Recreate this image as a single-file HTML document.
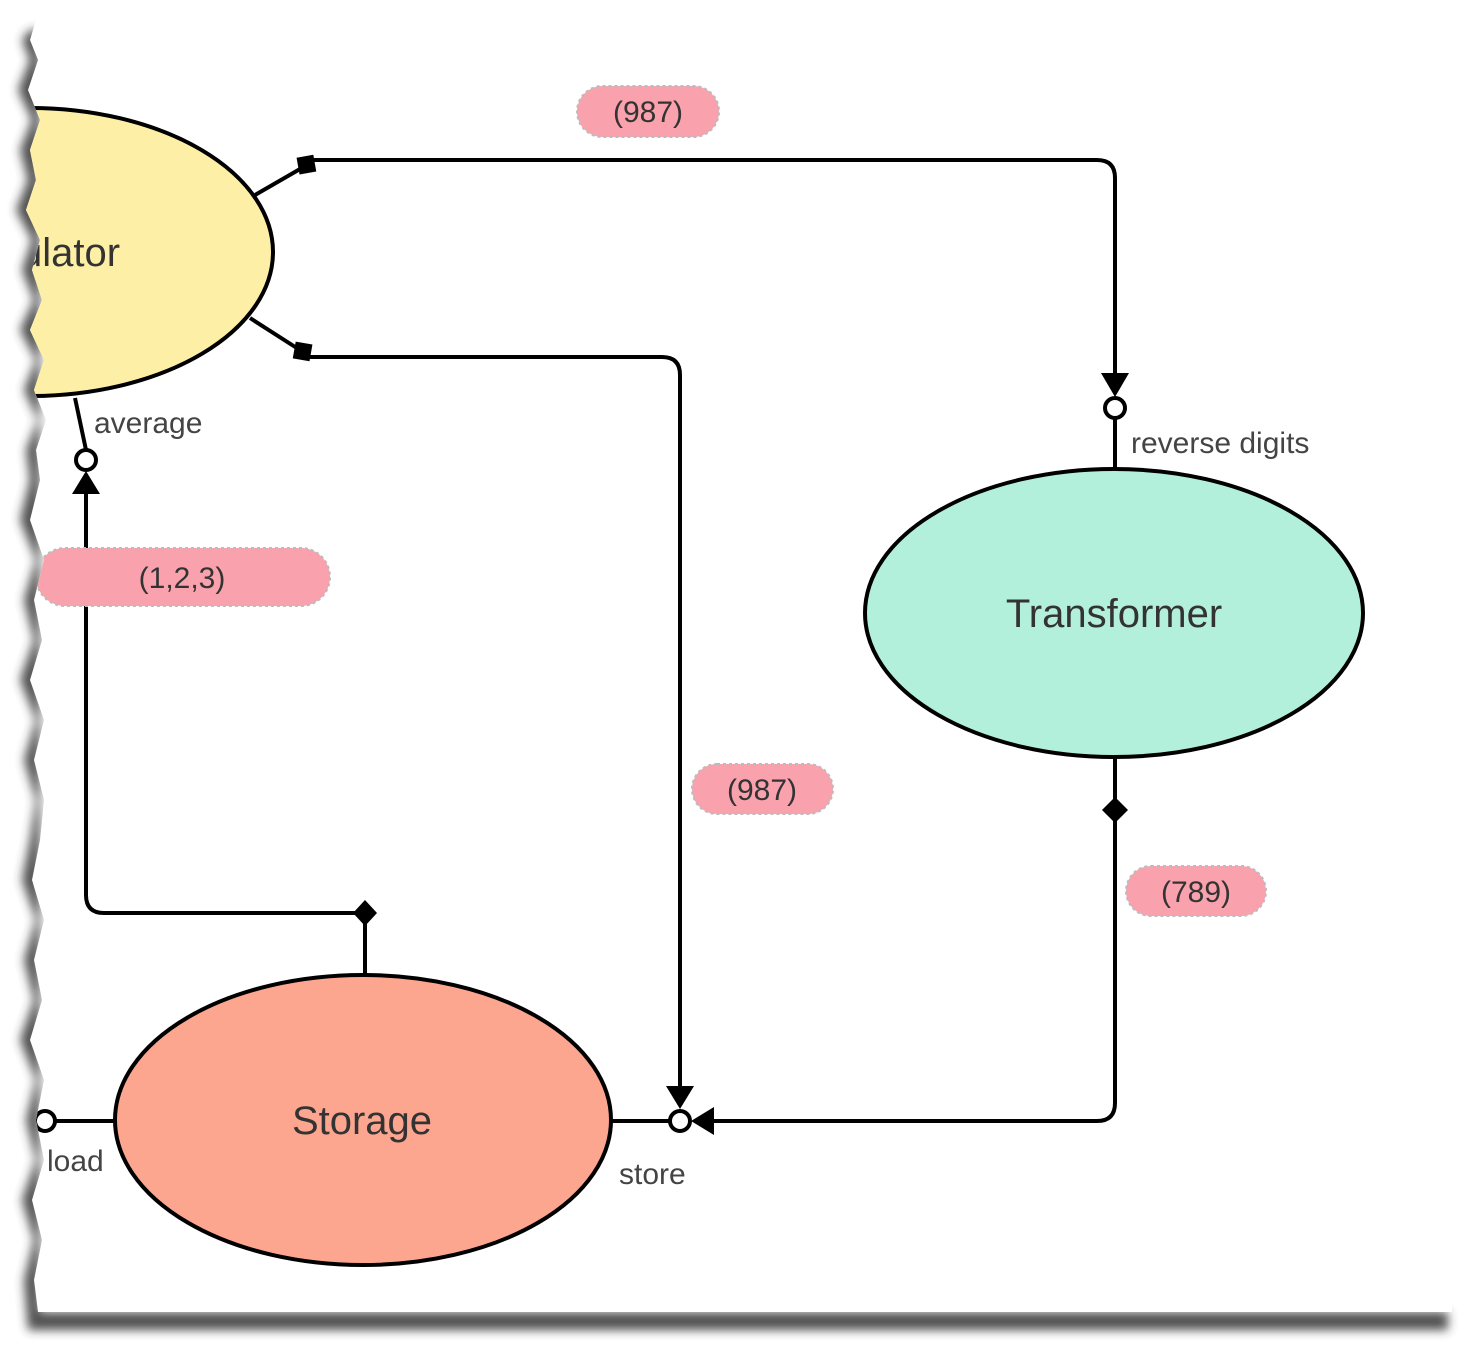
<!DOCTYPE html>
<html><head><meta charset="utf-8"><style>
html,body{margin:0;padding:0;background:#fff;}
svg{display:block;}
text{font-family:"Liberation Sans",sans-serif;}
</style></head><body>
<svg width="1472" height="1346" viewBox="0 0 1472 1346" xmlns="http://www.w3.org/2000/svg">
<defs>
<filter id="bl" x="-20%" y="-20%" width="140%" height="140%"><feGaussianBlur stdDeviation="5"/></filter>
<clipPath id="page"><path d="M36,20 L30,40 L38,60 L28,90 L40,120 L30,150 L36,180 L26,210 L40,240 L32,270 L42,300 L30,330 L44,360 L34,390 L46,420 L36,450 L40,480 L30,520 L44,560 L34,600 L42,640 L30,680 L44,720 L34,760 L44,800 L40,840 L32,880 L44,920 L34,960 L42,1000 L30,1040 L44,1080 L36,1120 L44,1160 L32,1200 L42,1240 L34,1280 L38,1312 L1452,1312 L1452,0 L36,0 Z"/></clipPath>
</defs>
<rect width="1472" height="1346" fill="#fff"/>
<!-- shadow -->
<g filter="url(#bl)" opacity="0.85">
<path d="M30,30 L22,40 L30,60 L18,90 L32,120 L20,150 L28,180 L16,210 L32,240 L22,270 L34,300 L20,330 L36,360 L24,390 L38,420 L26,450 L30,480 L20,520 L36,560 L24,600 L34,640 L20,680 L36,720 L24,760 L36,800 L30,840 L22,880 L36,920 L24,960 L34,1000 L20,1040 L36,1080 L26,1120 L36,1160 L22,1200 L34,1240 L24,1280 L28,1330 L1448,1330 L1448,1312 L40,1312 L40,30 Z" fill="#333"/>
</g>
<g clip-path="url(#page)">
<rect x="0" y="0" width="1472" height="1312" fill="#fff"/>
<!-- Calculator ellipse -->
<ellipse cx="30" cy="252" rx="243" ry="144" fill="#fdf0a6" stroke="#000" stroke-width="4"/>
<text x="20" y="266" font-size="40" fill="#333">ulator</text>
<!-- lines -->
<g stroke="#000" stroke-width="4" fill="none">
<path d="M255,195 L307,165"/>
<path d="M250,318 L303,352"/>
<path d="M307,160 L1097,160 Q1115,160 1115,178 L1115,380"/>
<path d="M303,357 L662,357 Q680,357 680,375 L680,1090"/>
<path d="M75,398 L86,450"/>
<path d="M365,975 L365,913 L104,913 Q86,913 86,895 L86,485"/>
<path d="M115,1121 L52,1121"/>
<path d="M611,1121 L670,1121"/>
<path d="M1115,468 L1115,418"/>
<path d="M1115,758 L1115,1103 Q1115,1121 1097,1121 L710,1121"/>
</g>
<!-- diamonds / squares -->
<rect x="298" y="156" width="17" height="17" fill="#000" transform="rotate(-10 307 165)"/>
<rect x="294" y="343" width="17" height="17" fill="#000" transform="rotate(10 303 352)"/>
<path d="M365,900 L377,913 L365,926 L353,913 Z" fill="#000"/>
<path d="M1115,797 L1128,810 L1115,823 L1102,810 Z" fill="#000"/>
<!-- arrows -->
<path d="M1101,373 L1129,373 L1115,397 Z" fill="#000"/>
<path d="M666,1086 L694,1086 L680,1109 Z" fill="#000"/>
<path d="M72,494 L100,494 L86,471 Z" fill="#000"/>
<path d="M714,1107 L714,1135 L691,1121 Z" fill="#000"/>
<!-- circles -->
<g fill="#fff" stroke="#000" stroke-width="4">
<circle cx="1115" cy="408" r="10"/>
<circle cx="86" cy="460" r="10"/>
<circle cx="680" cy="1121" r="10"/>
<circle cx="45" cy="1121" r="10"/>
</g>
<!-- Storage -->
<ellipse cx="363" cy="1120" rx="248" ry="145" fill="#fca690" stroke="#000" stroke-width="4"/>
<text x="362" y="1134" font-size="40" fill="#333" text-anchor="middle">Storage</text>
<!-- Transformer -->
<ellipse cx="1114" cy="613" rx="249" ry="144" fill="#b3f0db" stroke="#000" stroke-width="4"/>
<text x="1114" y="627" font-size="40" fill="#333" text-anchor="middle">Transformer</text>
<!-- port labels -->
<g font-size="30" fill="#444">
<text x="94" y="433">average</text>
<text x="1131" y="453">reverse digits</text>
<text x="47" y="1171">load</text>
<text x="619" y="1184">store</text>
</g>
<!-- pills -->
<g fill="#f9a2ad" stroke="#bbb" stroke-width="2" stroke-dasharray="3 3">
<rect x="577" y="86" width="142" height="51" rx="25.5"/>
<rect x="36" y="548" width="294" height="58" rx="29"/>
<rect x="692" y="764" width="141" height="50" rx="25"/>
<rect x="1126" y="866" width="140" height="50" rx="25"/>
</g>
<g font-size="30" fill="#333" text-anchor="middle">
<text x="648" y="122">(987)</text>
<text x="182" y="588">(1,2,3)</text>
<text x="762" y="800">(987)</text>
<text x="1196" y="902">(789)</text>
</g>
</g>
</svg>
</body></html>
